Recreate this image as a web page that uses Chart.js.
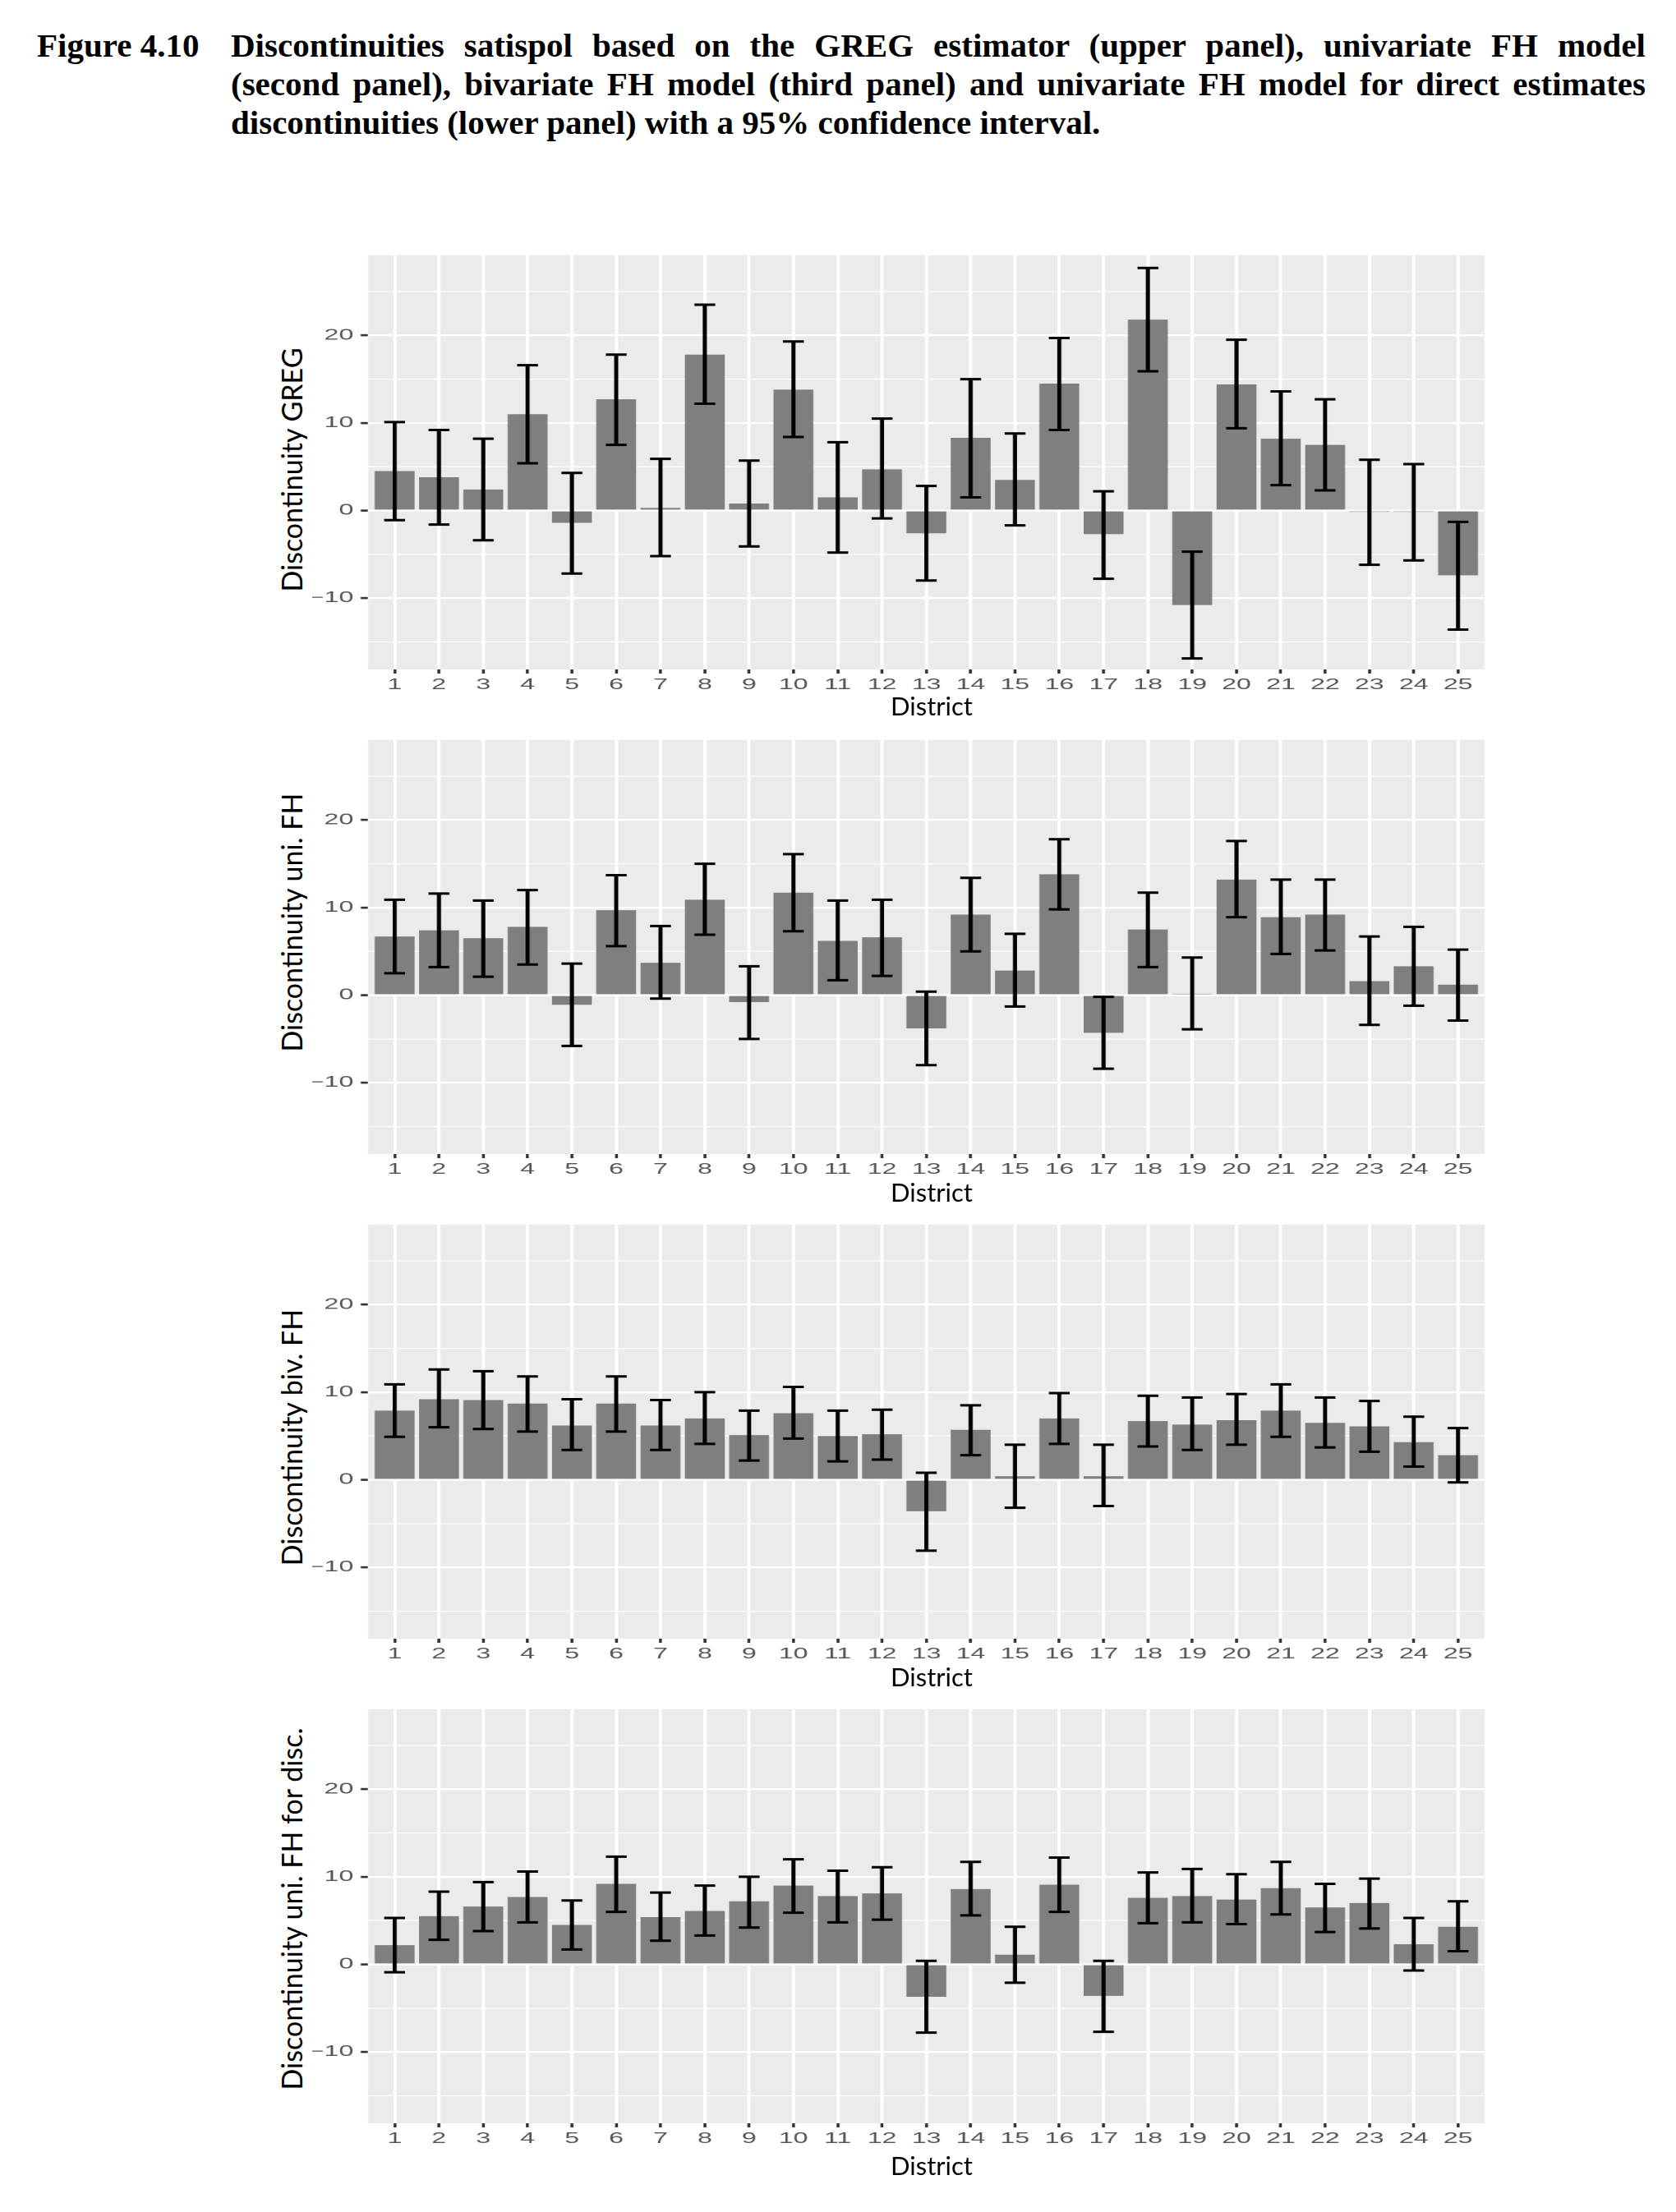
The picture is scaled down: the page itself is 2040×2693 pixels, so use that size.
<!DOCTYPE html>
<html>
<head>
<meta charset="utf-8">
<title>Figure 4.10</title>
<script src="https://cdn.jsdelivr.net/npm/chart.js@4.4.0/dist/chart.umd.min.js"></script>
<style>
  body { margin: 0; background: #fff; }
  #page { position: relative; width: 2040px; height: 2693px; overflow: hidden; background: #fff; }
  .caption { position: absolute; font-family: "Liberation Serif", "Times New Roman", serif; font-weight: bold;
             font-size: 41px; line-height: 47px; color: #000; }
  .caption .line { text-align: justify; text-align-last: justify; }
  .caption .last { text-align: left; }
  .panel { position: absolute; transform-origin: 0 0; }
  .ytitle { position: absolute; font-family: Lato, "Open Sans", sans-serif; font-size: 34px; line-height: 1.2;
            white-space: nowrap; color: #000; transform: translate(-50%, -50%) rotate(-90deg); }
  .xtitle { position: absolute; font-family: Lato, "Open Sans", sans-serif; font-size: 31px; line-height: 1.2;
            white-space: nowrap; color: #000; transform: translateX(-50%); }
</style>
</head>
<body>
<div id="page">
  <div class="caption" style="left:45px; top:32px;">Figure 4.10</div>
  <div class="caption" style="left:281px; top:32px; width:1722px;">
    <div class="line">Discontinuities satispol based on the GREG estimator (upper panel), univariate FH model</div>
    <div class="line">(second panel), bivariate FH model (third panel) and univariate FH model for direct estimates</div>
    <div class="last">discontinuities (lower panel) with a 95% confidence interval.</div>
  </div>
</div>
<script>
const districts = [1, 2, 3, 4, 5, 6, 7, 8, 9, 10, 11, 12, 13, 14, 15, 16, 17, 18, 19, 20, 21, 22, 23, 24, 25];
const yMajorTicks = [-10, 0, 10, 20];
const yMinorTicks = [-15, -5, 5, 15, 25];

// upper panel: GREG
const gregEst  = [4.5, 3.8, 2.4, 11.0, -1.4, 12.7, 0.3, 17.8, 0.8, 13.8, 1.5, 4.7, -2.6, 8.3, 3.5, 14.5, -2.7, 21.8, -10.8, 14.4, 8.2, 7.5, -0.15, -0.15, -7.4];
const gregLow  = [-1.1, -1.6, -3.4, 5.4, -7.2, 7.5, -5.2, 12.2, -4.1, 8.4, -4.8, -0.9, -8.0, 1.5, -1.7, 9.2, -7.8, 15.9, -16.9, 9.4, 2.9, 2.3, -6.2, -5.7, -13.6];
const gregHigh = [10.1, 9.2, 8.2, 16.6, 4.3, 17.8, 5.9, 23.5, 5.7, 19.3, 7.8, 10.5, 2.8, 15.0, 8.8, 19.7, 2.2, 27.7, -4.7, 19.5, 13.6, 12.7, 5.8, 5.3, -1.3];

// second panel: univariate FH
const uniEst  = [6.7, 7.4, 6.5, 7.8, -1.1, 9.7, 3.7, 10.9, -0.8, 11.7, 6.2, 6.6, -3.8, 9.2, 2.8, 13.8, -4.3, 7.5, 0.15, 13.2, 8.9, 9.2, 1.6, 3.3, 1.2];
const uniLow  = [2.5, 3.2, 2.1, 3.5, -5.8, 5.6, -0.4, 6.9, -5.0, 7.3, 1.7, 2.2, -8.0, 5.0, -1.3, 9.8, -8.4, 3.2, -3.9, 8.9, 4.7, 5.1, -3.4, -1.2, -2.9];
const uniHigh = [10.9, 11.6, 10.8, 12.0, 3.6, 13.7, 7.9, 15.0, 3.3, 16.1, 10.8, 10.9, 0.4, 13.4, 7.0, 17.8, -0.2, 11.7, 4.3, 17.6, 13.2, 13.2, 6.7, 7.8, 5.2];

// third panel: bivariate FH
const bivEst  = [7.9, 9.2, 9.1, 8.7, 6.2, 8.7, 6.2, 7.0, 5.1, 7.6, 5.0, 5.2, -3.6, 5.7, 0.4, 7.0, 0.4, 6.7, 6.3, 6.8, 7.9, 6.5, 6.1, 4.3, 2.8];
const bivLow  = [4.9, 6.0, 5.8, 5.5, 3.4, 5.5, 3.4, 4.1, 2.2, 4.7, 2.1, 2.3, -8.1, 2.8, -3.2, 4.1, -3.0, 3.8, 3.4, 4.0, 4.9, 3.7, 3.2, 1.5, -0.3];
const bivHigh = [10.9, 12.6, 12.4, 11.8, 9.2, 11.8, 9.1, 10.0, 7.9, 10.6, 7.9, 8.0, 0.8, 8.5, 4.0, 9.9, 4.0, 9.6, 9.4, 9.8, 10.9, 9.4, 9.0, 7.2, 5.9];

// lower panel: univariate FH for direct estimates of discontinuities
const discEst  = [2.2, 5.5, 6.6, 7.7, 4.5, 9.2, 5.4, 6.1, 7.2, 9.0, 7.8, 8.1, -3.7, 8.6, 1.1, 9.1, -3.6, 7.6, 7.8, 7.4, 8.7, 6.5, 7.0, 2.3, 4.3];
const discLow  = [-0.9, 2.8, 3.8, 4.8, 1.7, 6.0, 2.7, 3.3, 4.2, 5.9, 4.8, 5.1, -7.8, 5.6, -2.1, 6.0, -7.7, 4.7, 4.8, 4.6, 5.7, 3.7, 4.1, -0.7, 1.5];
const discHigh = [5.3, 8.3, 9.4, 10.6, 7.3, 12.3, 8.2, 9.0, 10.0, 12.0, 10.7, 11.1, 0.4, 11.7, 4.3, 12.2, 0.4, 10.5, 10.9, 10.3, 11.7, 9.2, 9.8, 5.3, 7.2];

const panels = [
  { est: gregEst, low: gregLow, high: gregHigh, title: 'Discontinuity GREG', titleY: 572, districtTop: 841 },
  { est: uniEst, low: uniLow, high: uniHigh, title: 'Discontinuity uni. FH', titleY: 1123, districtTop: 1433 },
  { est: bivEst, low: bivLow, high: bivHigh, title: 'Discontinuity biv. FH', titleY: 1750, districtTop: 2023 },
  { est: discEst, low: discLow, high: discHigh, title: 'Discontinuity uni. FH for disc.', titleY: 2324, districtTop: 2618 }
];

// the ggplot picture was pasted stretched sideways, so the canvas is too
const STRETCH = 1.78;
const yTicks = yMajorTicks.concat(yMinorTicks).sort((a, b) => a - b);

const panelBackground = {
  id: 'panelBackground',
  beforeDraw(chart) {
    const { ctx, chartArea: a } = chart;
    ctx.save();
    ctx.fillStyle = '#ebebeb';
    ctx.fillRect(a.left, a.top, a.right - a.left, a.bottom - a.top);
    ctx.restore();
  }
};

function errorBars(low, high) {
  return {
    id: 'errorBars',
    afterDatasetsDraw(chart) {
      const { ctx, scales: { x, y } } = chart;
      ctx.save();
      ctx.strokeStyle = '#000';
      districts.forEach((d, i) => {
        const cx = x.getPixelForValue(d);
        const x0 = x.getPixelForValue(d - 0.235);
        const x1 = x.getPixelForValue(d + 0.235);
        const yl = y.getPixelForValue(low[i]);
        const yh = y.getPixelForValue(high[i]);
        ctx.lineWidth = 2.8;
        ctx.beginPath();
        ctx.moveTo(cx, yl);
        ctx.lineTo(cx, yh);
        ctx.stroke();
        ctx.lineWidth = 3;
        ctx.beginPath();
        ctx.moveTo(x0, yl); ctx.lineTo(x1, yl);
        ctx.moveTo(x0, yh); ctx.lineTo(x1, yh);
        ctx.stroke();
      });
      ctx.restore();
    }
  };
}

const page = document.getElementById('page');

panels.forEach((p, i) => {
  const wrap = document.createElement('div');
  wrap.className = 'panel';
  wrap.style.left = '380px';
  wrap.style.top = (294.8 + 590 * i) + 'px';
  wrap.style.transform = 'scaleX(' + STRETCH + ')';
  const canvas = document.createElement('canvas');
  canvas.width = 806;
  canvas.height = 560;
  wrap.appendChild(canvas);
  page.appendChild(wrap);

  const yt = document.createElement('div');
  yt.className = 'ytitle';
  yt.style.left = '355px';
  yt.style.top = p.titleY + 'px';
  yt.textContent = p.title;
  page.appendChild(yt);

  const xt = document.createElement('div');
  xt.className = 'xtitle';
  xt.style.left = '1134px';
  xt.style.top = p.districtTop + 'px';
  xt.textContent = 'District';
  page.appendChild(xt);

  new Chart(canvas, {
    type: 'bar',
    data: {
      datasets: [{
        data: districts.map((d, k) => ({ x: d, y: p.est[k] })),
        backgroundColor: '#7f7f7f',
        borderWidth: 0,
        barPercentage: 0.9,
        categoryPercentage: 1.0
      }]
    },
    options: {
      responsive: false,
      animation: false,
      devicePixelRatio: 2,
      layout: { padding: { top: 10, right: 4.3, bottom: 0, left: 0 } },
      plugins: { legend: { display: false }, tooltip: { enabled: false } },
      scales: {
        x: {
          type: 'linear',
          min: 0.4,
          max: 25.6,
          bounds: 'data',
          offset: false,
          afterBuildTicks: (s) => { s.ticks = districts.map(v => ({ value: v })); },
          afterFit: (s) => { s.height = 40; },
          border: { display: false },
          grid: { color: '#ffffff', lineWidth: 2.2, offset: false, tickLength: 5, tickColor: '#333333', tickWidth: 2 },
          ticks: {
            autoSkip: false,
            maxRotation: 0,
            padding: 3,
            color: '#555555',
            font: { family: 'Liberation Sans, Arial, sans-serif', size: 18 },
            callback: (v) => String(v)
          }
        },
        y: {
          min: -18.15,
          max: 29.15,
          bounds: 'data',
          afterBuildTicks: (s) => { s.ticks = yTicks.map(v => ({ value: v })); },
          afterFit: (s) => { s.width = 38.2; },
          border: { display: false },
          grid: {
            color: '#ffffff',
            lineWidth: (c) => (c.tick && yMajorTicks.includes(c.tick.value) ? 2.2 : 1.1),
            tickLength: 5,
            tickWidth: 2.6,
            tickColor: (c) => (c.tick && yMajorTicks.includes(c.tick.value) ? '#333333' : 'rgba(0,0,0,0)')
          },
          ticks: {
            padding: 5,
            color: '#555555',
            font: { family: 'Liberation Sans, Arial, sans-serif', size: 18 },
            callback: (v) => (yMajorTicks.includes(v) ? String(v).replace('-', '\u2212') : '')
          }
        }
      }
    },
    plugins: [panelBackground, errorBars(p.low, p.high)]
  });
});
</script>
</body>
</html>
